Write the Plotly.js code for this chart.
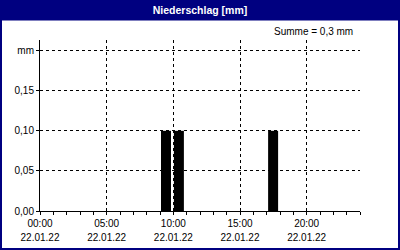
<!DOCTYPE html>
<html><head><meta charset="utf-8">
<script src="https://cdn.plot.ly/plotly-3.0.1.min.js"></script>
<style>html,body{margin:0;padding:0;background:#fff}#chart{width:400px;height:250px}</style>
</head><body><div id="chart"></div>
<script>
const times = ['2022-01-22 09:27', '2022-01-22 10:25', '2022-01-22 17:29'];
const values = [0.1, 0.1, 0.1];
const yTickVals = [0, 0.05, 0.1, 0.15, 0.2];
const yTickText = ['0,00', '0,05', '0,10', '0,15', 'mm'];
const xTickVals = ['2022-01-22 00:00', '2022-01-22 05:00', '2022-01-22 10:00', '2022-01-22 15:00', '2022-01-22 20:00'];
const xTimeText = ['00:00', '05:00', '10:00', '15:00', '20:00'];
const xDateText = ['22.01.22', '22.01.22', '22.01.22', '22.01.22', '22.01.22'];
const titleText = 'Niederschlag [mm]';
const sumText = 'Summe = 0,3 mm';

const navy = '#000080';
const font = 'Liberation Sans, Arial, sans-serif';
const xRange = ['2022-01-22 00:00', '2022-01-23 00:00'];

const data = [
  {type: 'bar', x: times, y: values, width: 2700000, marker: {color: '#000', line: {width: 0}}, xaxis: 'x', yaxis: 'y', hoverinfo: 'skip'},
  {type: 'scatter', x: xRange, y: [null, null], xaxis: 'x2', yaxis: 'y', mode: 'lines', hoverinfo: 'skip', showlegend: false}
];

const layout = {
  width: 400, height: 250,
  margin: {l: 40, r: 40, t: 40, b: 39, pad: 0},
  paper_bgcolor: '#fff', plot_bgcolor: '#fff',
  showlegend: false,
  font: {family: font, size: 10, color: '#000'},
  title: {text: '<b>' + titleText + '</b>', font: {family: font, size: 10.5, color: '#fff'},
          x: 0.5, xref: 'container', xanchor: 'center', y: 0.959, yref: 'container', yanchor: 'middle'},
  xaxis: {
    type: 'date', range: xRange, tickmode: 'array', tickvals: xTickVals, ticktext: xTimeText,
    showgrid: true, gridcolor: '#000', gridwidth: 1, griddash: '3px,3px',
    showline: true, linecolor: '#000', linewidth: 1, zeroline: false,
    ticks: 'outside', ticklen: 3, tickcolor: '#000', tickwidth: 1,
    minor: {dtick: 3600000, ticks: 'outside', ticklen: 3, tickcolor: '#000', showgrid: false},
    tickfont: {family: font, size: 10, color: '#000'}, ticklabelstandoff: 0, fixedrange: true
  },
  xaxis2: {
    type: 'date', range: xRange, overlaying: 'x', anchor: 'y', side: 'bottom',
    tickmode: 'array', tickvals: xTickVals, ticktext: xDateText,
    showgrid: false, showline: false, zeroline: false, ticks: '',
    tickfont: {family: font, size: 10, color: '#000'}, ticklabelstandoff: 19, fixedrange: true
  },
  yaxis: {
    range: [0, 0.2133], tickmode: 'array', tickvals: yTickVals, ticktext: yTickText,
    showgrid: true, gridcolor: '#000', gridwidth: 1, griddash: '3px,3px',
    showline: true, linecolor: '#000', linewidth: 1, zeroline: false,
    ticks: 'outside', ticklen: 3, tickcolor: '#000', tickwidth: 1,
    tickfont: {family: font, size: 10, color: '#000'}, fixedrange: true
  },
  annotations: [
    {text: sumText, xref: 'paper', yref: 'paper', x: 0.984, y: 1.0526, xanchor: 'right', yanchor: 'middle',
     showarrow: false, font: {family: font, size: 10, color: '#000'}}
  ],
  shapes: [
    {type: 'rect', xref: 'paper', yref: 'paper', x0: -0.2, x1: 1.2, y0: 1.114, y1: 1.4, fillcolor: navy, line: {width: 0}},
    {type: 'rect', xref: 'paper', yref: 'paper', x0: -0.2, x1: -0.11875, y0: -0.4, y1: 1.4, fillcolor: navy, line: {width: 0}},
    {type: 'rect', xref: 'paper', yref: 'paper', x0: 1.11875, x1: 1.2, y0: -0.4, y1: 1.4, fillcolor: navy, line: {width: 0}},
    {type: 'rect', xref: 'paper', yref: 'paper', x0: -0.2, x1: 1.2, y0: -0.4, y1: -0.2164, fillcolor: navy, line: {width: 0}}
  ]
};

Plotly.newPlot('chart', data, layout, {displayModeBar: false, staticPlot: true});
</script></body></html>
